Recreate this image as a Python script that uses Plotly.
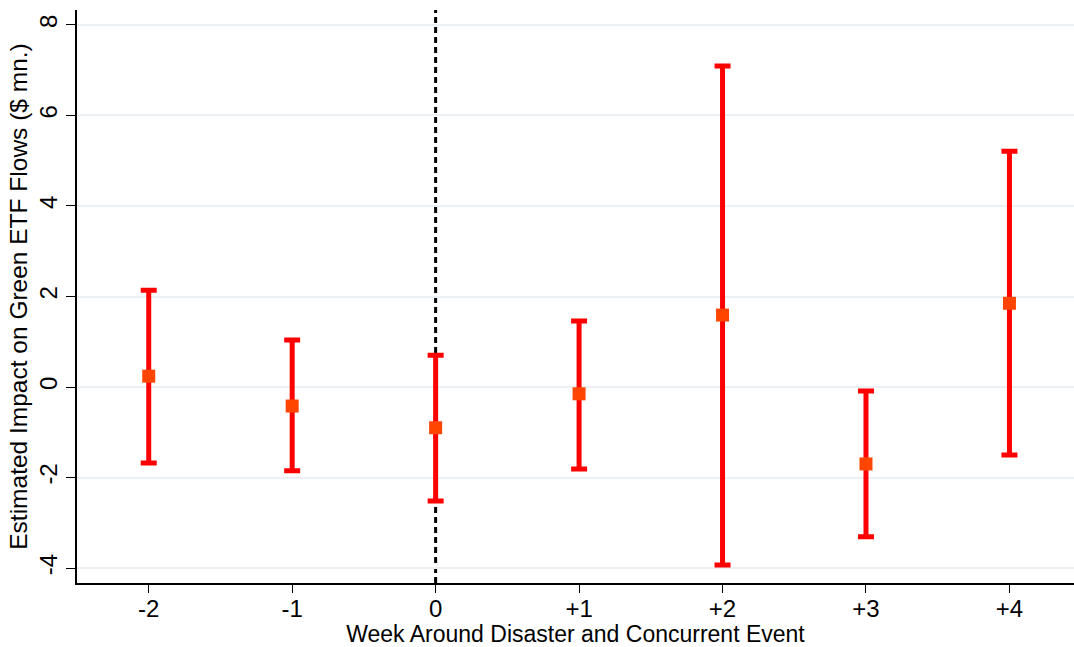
import plotly.graph_objects as go

weeks = [-2, -1, 0, 1, 2, 3, 4]
week_labels = ["-2", "-1", "0", "+1", "+2", "+3", "+4"]
estimate = [0.24, -0.42, -0.90, -0.15, 1.59, -1.70, 1.85]
upper = [2.14, 1.04, 0.70, 1.46, 7.09, -0.09, 5.21]
lower = [-1.68, -1.85, -2.52, -1.81, -3.93, -3.31, -1.50]
y_ticks = [-4, -2, 0, 2, 4, 6, 8]
y_tick_labels = ["-4", "-2", "0", "2", "4", "6", "8"]

err_plus = [u - e for u, e in zip(upper, estimate)]
err_minus = [e - l for e, l in zip(estimate, lower)]

fig = go.Figure()
fig.add_trace(go.Scatter(
    x=weeks, y=estimate, mode="markers",
    marker=dict(symbol="square", size=13, color="#ff4500"),
    error_y=dict(type="data", symmetric=False, array=err_plus, arrayminus=err_minus,
                 color="#ff0000", thickness=5, width=8),
    showlegend=False,
))

fig.add_shape(type="line", xref="x", yref="paper", x0=0, x1=0, y0=0, y1=1,
              line=dict(color="black", width=3, dash="6px,4px"), layer="below")
fig.add_shape(type="line", xref="paper", yref="y", x0=0, x1=1, y0=0, y1=0,
              line=dict(color="black", width=1.5), layer="below")

fig.update_layout(
    width=1074, height=647,
    margin=dict(l=77, r=0, t=10, b=64),
    plot_bgcolor="white", paper_bgcolor="white",
    font=dict(family="Liberation Sans, Arial, sans-serif", size=21, color="black"),
    xaxis=dict(range=[-2.5, 4.45], tickvals=weeks, ticktext=week_labels,
               showgrid=False, zeroline=False, showline=True, linecolor="black", linewidth=1.5,
               ticks="outside", ticklen=8, tickcolor="black", ticklabelstandoff=-5,
               tickfont=dict(family="Liberation Sans, Arial, sans-serif", size=24, color="black"),
               title=dict(text="Week Around Disaster and Concurrent Event", standoff=0,
                          font=dict(size=23))),
    yaxis=dict(range=[-4.33, 8.33], tickvals=y_ticks, ticktext=y_tick_labels, tickangle=-90,
               showgrid=True, gridcolor="#eaf0f3", gridwidth=1.5, zeroline=False,
               showline=True, linecolor="black", linewidth=1.5,
               ticks="outside", ticklen=9, tickcolor="black",
               tickfont=dict(family="Liberation Sans, Arial, sans-serif", size=24, color="black"),
               title=dict(text="Estimated Impact on Green ETF Flows ($ mn.)", standoff=0,
                          font=dict(size=24.5))),
)

fig.write_html("out.html")
